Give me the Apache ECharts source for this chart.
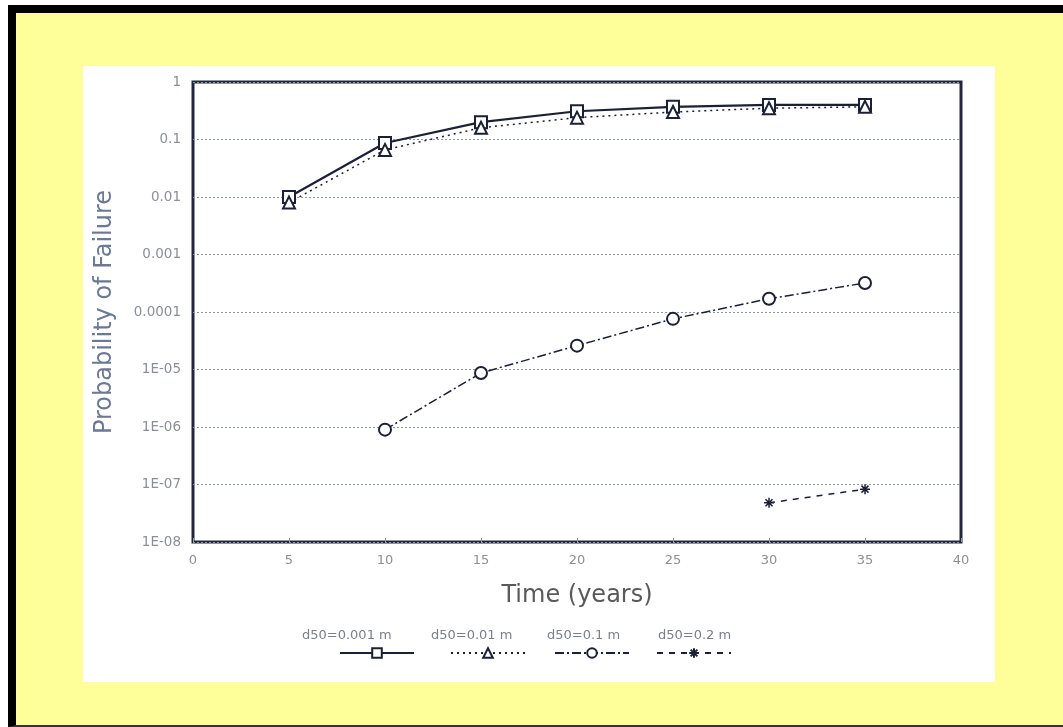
<!DOCTYPE html>
<html>
<head>
<meta charset="utf-8">
<script src="https://cdn.jsdelivr.net/npm/echarts@6/dist/echarts.min.js"></script>
<style>
  html, body { margin: 0; padding: 0; width: 1063px; height: 727px; background: #ffffff; overflow: hidden; }
  #frame { position: absolute; left: 8px; top: 5px; height: 712px; width: 1047px;
           border-top: 8px solid #000; border-left: 8px solid #000; border-bottom: 2px solid #333;
           background: #FFFF99; box-sizing: content-box; }
  #paper { position: absolute; left: 83px; top: 66px; width: 912px; height: 616px; background: #ffffff; }
  #chart { position: absolute; left: 0; top: 0; width: 1063px; height: 727px; }
</style>
</head>
<body>
<div id="frame"></div>
<div id="paper"></div>
<div id="chart"></div>
<script>
// ---- data ----
const years = [5, 10, 15, 20, 25, 30, 35];
const seriesNames = ['d50=0.001 m', 'd50=0.01 m', 'd50=0.1 m', 'd50=0.2 m'];
const pf_0001 = [0.01, 0.087, 0.2, 0.31, 0.37, 0.40, 0.40];
const pf_001  = [0.008, 0.066, 0.16, 0.24, 0.30, 0.35, 0.37];
const pf_01   = [null, 9e-7, 8.7e-6, 2.6e-5, 7.6e-5, 1.7e-4, 3.2e-4];
const pf_02   = [null, null, null, null, null, 4.8e-8, 8.3e-8];
const yTickLabels = ['1E-08', '1E-07', '1E-06', '1E-05', '0.0001', '0.001', '0.01', '0.1', '1'];
const xTicks = [0, 5, 10, 15, 20, 25, 30, 35, 40];

function pairs(vals) {
  const out = [];
  years.forEach((y, i) => { if (vals[i] != null) out.push([y, vals[i]]); });
  return out;
}

const ink = '#1c2036';
const starPath = 'path://M5,0 L5,10 M0,5 L10,5 M1.5,1.5 L8.5,8.5 M8.5,1.5 L1.5,8.5';

const chart = echarts.init(document.getElementById('chart'), null, { renderer: 'canvas' });

const legendCenters = [371, 482, 586, 688];
const textCenters = [352, 481, 597, 708];

const option = {
  backgroundColor: 'transparent',
  animation: false,
  grid: { left: 193, top: 82, width: 768, height: 460, show: true,
          borderColor: '#22263a', borderWidth: 3, backgroundColor: 'transparent' },
  xAxis: {
    type: 'value', min: 0, max: 40, interval: 5,
    name: 'Time (years)', nameLocation: 'middle', nameGap: 42,
    nameTextStyle: { fontFamily: 'DejaVu Sans', fontSize: 24, color: '#5a5a5a' },
    axisLine: { show: false },
    axisTick: { show: true, inside: true, length: 4, lineStyle: { color: '#999' } },
    axisLabel: { margin: 12, fontFamily: 'DejaVu Sans', fontSize: 13, color: '#8a8f99',
                 formatter: v => String(xTicks[xTicks.indexOf(v)]) },
    splitLine: { show: false }
  },
  yAxis: {
    type: 'log', logBase: 10, min: 1e-8, max: 1,
    name: 'Probability of Failure', nameLocation: 'middle', nameGap: 76,
    nameTextStyle: { fontFamily: 'DejaVu Sans', fontSize: 24, color: '#6b7896' },
    axisLine: { show: false },
    axisTick: { show: false },
    axisLabel: { margin: 12, fontFamily: 'DejaVu Sans', fontSize: 13.5, color: '#8a8f99',
                 formatter: v => yTickLabels[Math.round(Math.log10(v)) + 8] },
    splitLine: { show: true, lineStyle: { color: '#8e96a6', type: [2, 2], width: 1 } }
  },
  legend: seriesNames.map((n, i) => ({
    data: [n], left: legendCenters[i] - 37, top: 642, itemWidth: 74, itemHeight: 12,
    formatter: () => '', selectedMode: false
  })),
  graphic: seriesNames.map((n, i) => ({
    type: 'text', left: textCenters[i] - 50, top: 629,
    style: { text: n, fontFamily: 'DejaVu Sans', fontSize: 13, fill: '#7a7f8a',
             width: 100, align: 'center' },
    silent: true
  })),
  series: [
    { name: seriesNames[0], type: 'line', data: pairs(pf_0001),
      symbol: 'emptyRect', symbolSize: 12,
      lineStyle: { color: ink, width: 2.2, type: 'solid' },
      itemStyle: { color: ink, borderColor: ink, borderWidth: 2 } },
    { name: seriesNames[1], type: 'line', data: pairs(pf_001),
      symbol: 'emptyTriangle', symbolSize: 12,
      lineStyle: { color: ink, width: 1.5, type: [2, 4] },
      itemStyle: { color: ink, borderColor: ink, borderWidth: 2 } },
    { name: seriesNames[2], type: 'line', data: pairs(pf_01),
      symbol: 'emptyCircle', symbolSize: 12,
      lineStyle: { color: ink, width: 1.5, type: [9, 3, 2, 3] },
      itemStyle: { color: ink, borderColor: ink, borderWidth: 2 } },
    { name: seriesNames[3], type: 'line', data: pairs(pf_02),
      symbol: starPath, symbolSize: 10,
      lineStyle: { color: ink, width: 1.5, type: [6, 6] },
      itemStyle: { color: ink, borderColor: ink, borderWidth: 1.5 } }
  ]
};
chart.setOption(option);
</script>
</body>
</html>
